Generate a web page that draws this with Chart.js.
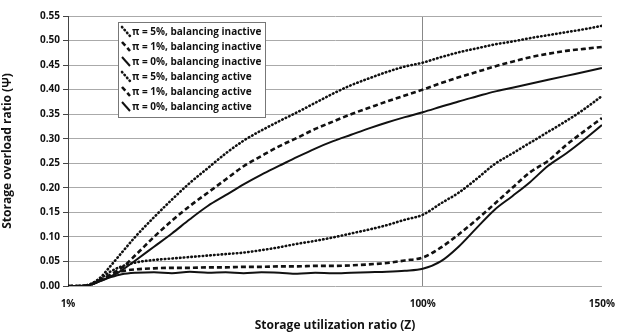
<html lang="en">

<head>
    <meta charset="UTF-8">
    <title>Storage overload ratio</title>
    <script src="https://cdn.jsdelivr.net/npm/chart.js"></script>
    <style>
        body { margin: 0; background: #fff; }
    </style>
</head>

<body>
    <canvas id="myChart" width="627" height="335"></canvas>

    <script>
        // storage utilization ratio Z (%) used as x for every series
        const xVals = [1, 4, 7, 10, 13, 16, 20, 25, 30, 35, 40, 45, 50, 55, 60, 65, 70, 75, 80, 85, 90, 95, 100, 105, 110, 115, 120, 125, 130, 135, 140, 145, 150];

        // storage overload ratio (psi) per series
        const pi5Inactive = [0, 0, 0.003, 0.017, 0.042, 0.068, 0.102, 0.14, 0.176, 0.21, 0.24, 0.27, 0.296, 0.317, 0.336, 0.354, 0.373, 0.392, 0.409, 0.423, 0.436, 0.447, 0.455, 0.466, 0.476, 0.484, 0.492, 0.498, 0.505, 0.511, 0.517, 0.523, 0.530];
        const pi1Inactive = [0, 0, 0.002, 0.012, 0.024, 0.037, 0.064, 0.1, 0.133, 0.163, 0.19, 0.217, 0.244, 0.265, 0.285, 0.302, 0.32, 0.335, 0.35, 0.363, 0.376, 0.388, 0.40, 0.413, 0.425, 0.436, 0.447, 0.457, 0.466, 0.473, 0.479, 0.483, 0.487];
        const pi0Inactive = [0, 0, 0.002, 0.01, 0.02, 0.032, 0.053, 0.08, 0.107, 0.136, 0.163, 0.185, 0.207, 0.227, 0.245, 0.263, 0.28, 0.295, 0.308, 0.321, 0.333, 0.344, 0.354, 0.365, 0.376, 0.386, 0.396, 0.404, 0.412, 0.42, 0.428, 0.436, 0.444];
        const pi5Active = [0, 0, 0.003, 0.015, 0.03, 0.04, 0.048, 0.053, 0.056, 0.059, 0.062, 0.065, 0.068, 0.073, 0.079, 0.086, 0.092, 0.099, 0.107, 0.115, 0.124, 0.135, 0.145, 0.168, 0.19, 0.218, 0.248, 0.27, 0.292, 0.314, 0.336, 0.36, 0.387];
        const pi1Active = [0, 0, 0.002, 0.012, 0.022, 0.03, 0.034, 0.036, 0.037, 0.037, 0.038, 0.038, 0.039, 0.039, 0.04, 0.04, 0.041, 0.041, 0.042, 0.044, 0.047, 0.052, 0.058, 0.078, 0.105, 0.135, 0.167, 0.2, 0.232, 0.255, 0.287, 0.315, 0.342];
        const pi0Active = [0, 0, 0.002, 0.01, 0.018, 0.024, 0.027, 0.028, 0.026, 0.029, 0.027, 0.028, 0.026, 0.028, 0.027, 0.025, 0.027, 0.026, 0.027, 0.028, 0.029, 0.031, 0.035, 0.05, 0.08, 0.118, 0.155, 0.183, 0.212, 0.245, 0.27, 0.298, 0.328];

        const seriesLabels = [
            'π = 5%, balancing inactive',
            'π = 1%, balancing inactive',
            'π = 0%, balancing inactive',
            'π = 5%, balancing active',
            'π = 1%, balancing active',
            'π = 0%, balancing active'
        ];
        const seriesData = [pi5Inactive, pi1Inactive, pi0Inactive, pi5Active, pi1Active, pi0Active];

        // tick labels
        const xTicks = [1, 100, 150];
        const yTicks = [0, 0.05, 0.10, 0.15, 0.20, 0.25, 0.30, 0.35, 0.40, 0.45, 0.50, 0.55];

        const FONT = 'Open Sans';
        const INK = '#111';

        // dotted, dashed, solid - same pattern for inactive and active runs
        const dashes = [[0.5, 3.3], [5, 3], []];
        const widths = [2.6, 2.6, 2];
        const caps = ['round', 'butt', 'butt'];

        let datasets = seriesData.map(function (arr, i) {
            return {
                label: seriesLabels[i],
                data: xVals.map(function (x, j) { return { x: x, y: arr[j] }; }),
                borderColor: INK,
                borderWidth: widths[i % 3],
                borderDash: dashes[i % 3],
                borderCapStyle: caps[i % 3],
                pointRadius: 0,
                cubicInterpolationMode: 'monotone',
                fill: false
            };
        });

        // legend in a box at the top left of the plot, short diagonal samples
        const boxLegend = {
            id: 'boxLegend',
            afterDatasetsDraw(chart) {
                let c = chart.ctx;
                let area = chart.chartArea;
                let bx = area.left + 50, by = area.top + 6, bw = 147, bh = 95;
                c.save();
                c.fillStyle = '#fff';
                c.fillRect(bx, by, bw, bh);
                c.strokeStyle = '#777';
                c.lineWidth = 1;
                c.strokeRect(bx + 0.5, by + 0.5, bw, bh);
                c.font = 'bold 10px "' + FONT + '"';
                c.textBaseline = 'middle';
                c.fillStyle = INK;
                chart.data.datasets.forEach(function (ds, i) {
                    let ry = by + 10 + i * 15;
                    c.beginPath();
                    c.setLineDash(ds.borderDash);
                    c.lineCap = ds.borderCapStyle;
                    c.lineWidth = ds.borderWidth;
                    c.strokeStyle = INK;
                    c.moveTo(bx + 4, ry - 5);
                    c.lineTo(bx + 12, ry + 4);
                    c.stroke();
                    c.setLineDash([]);
                    c.fillText(ds.label, bx + 14, ry);
                });
                c.restore();
            }
        };

        let ctx = document.getElementById('myChart').getContext('2d');
        let myChart = new Chart(ctx, {
            type: 'line',
            data: { datasets: datasets },
            plugins: [boxLegend],
            options: {
                responsive: false,
                animation: false,
                layout: { padding: { top: 16, right: 12, left: 0, bottom: 0 } },
                plugins: {
                    legend: { display: false },
                    tooltip: { enabled: false }
                },
                scales: {
                    x: {
                        type: 'linear',
                        min: 1,
                        max: 150,
                        afterBuildTicks: function (scale) {
                            scale.ticks = xTicks.map(function (v) { return { value: v }; });
                        },
                        afterFit: function (scale) { scale.height = 49; },
                        ticks: {
                            color: INK,
                            padding: 12,
                            maxRotation: 0,
                            font: { family: FONT, size: 10, weight: 'bold' },
                            callback: function (v) { return v + '%'; }
                        },
                        grid: {
                            drawTicks: false,
                            color: function (c) { return c.tick && c.tick.value === 100 ? '#888' : 'rgba(0,0,0,0)'; },
                            lineWidth: 1
                        },
                        border: { display: false },
                        title: {
                            display: true,
                            text: 'Storage utilization ratio (Z)',
                            color: INK,
                            padding: { top: 4, bottom: 2 },
                            font: { family: FONT, size: 12, weight: 'bold' }
                        }
                    },
                    y: {
                        min: 0,
                        max: 0.55,
                        afterBuildTicks: function (scale) {
                            scale.ticks = yTicks.map(function (v) { return { value: v }; });
                        },
                        afterFit: function (scale) { scale.width = 68; },
                        ticks: {
                            color: INK,
                            padding: 3,
                            font: { family: FONT, size: 10, weight: 'bold' },
                            callback: function (v) { return v.toFixed(2); }
                        },
                        grid: {
                            color: '#aaa',
                            lineWidth: 1,
                            borderDash: [2, 2],
                            tickLength: 5,
                            tickColor: '#444',
                            tickBorderDash: []
                        },
                        border: { display: true, color: '#444', width: 1 },
                        title: {
                            display: true,
                            text: 'Storage overload ratio (Ψ)',
                            color: INK,
                            padding: { top: 0, bottom: 4 },
                            font: { family: FONT, size: 12, weight: 'bold' }
                        }
                    }
                }
            }
        });
    </script>
</body>

</html>
